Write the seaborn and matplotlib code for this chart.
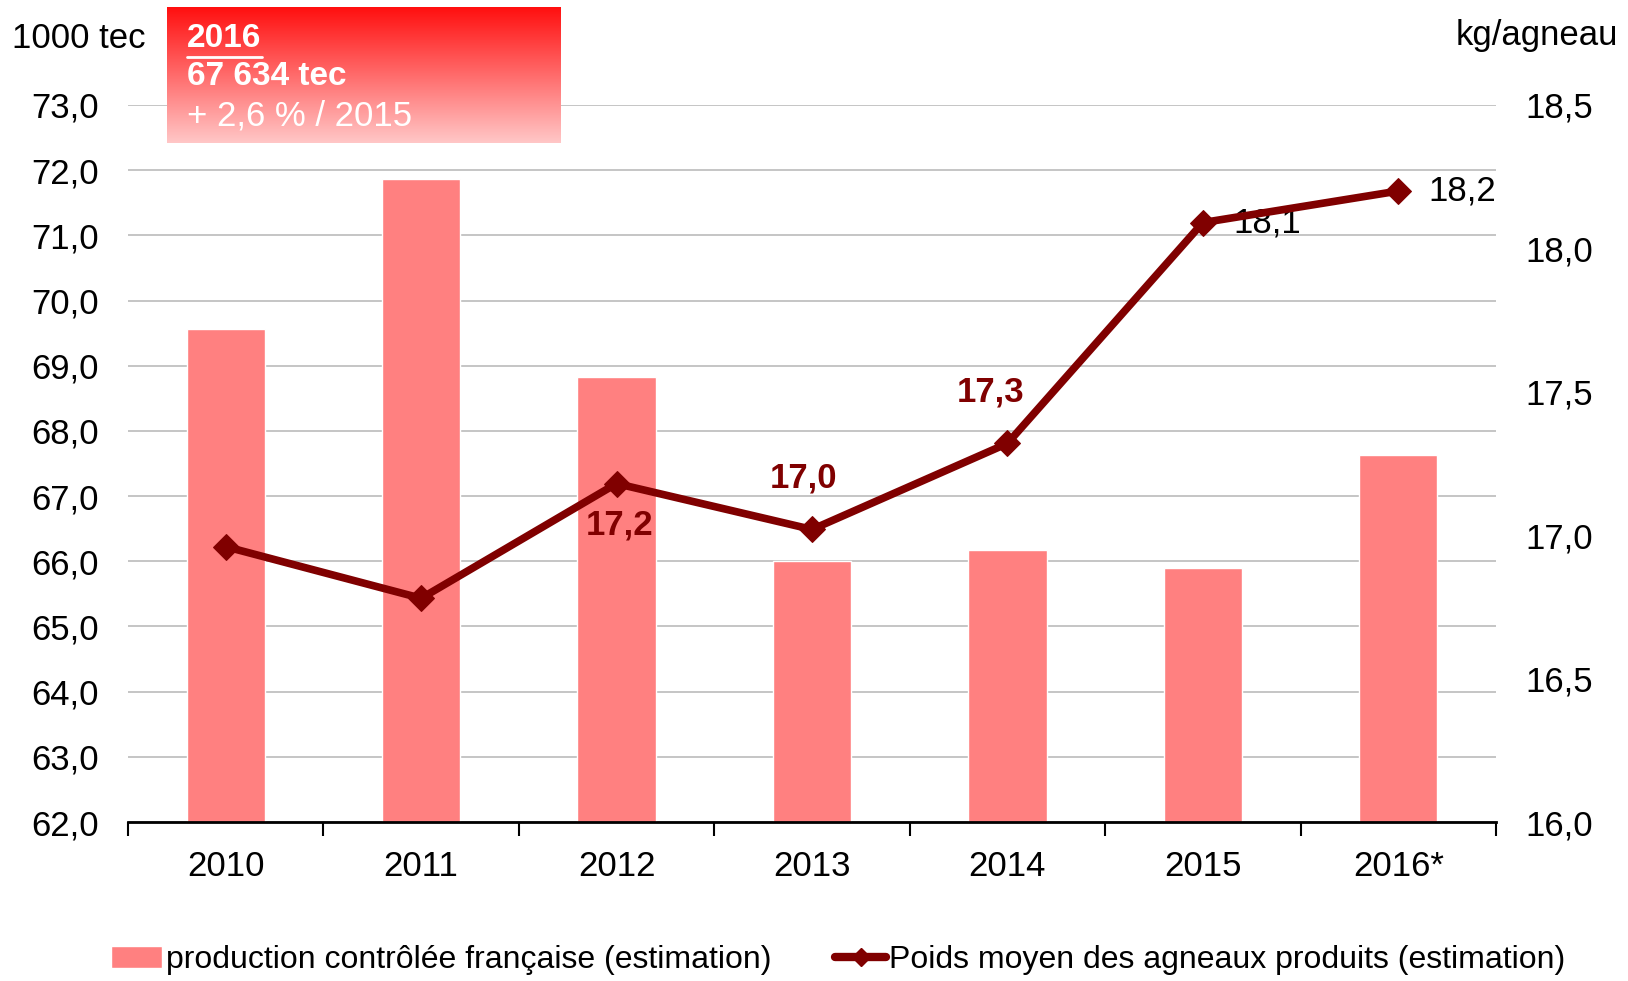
import matplotlib
matplotlib.use('Agg')
import matplotlib.pyplot as plt
import numpy as np
import pandas as pd
import seaborn as sns
from matplotlib.lines import Line2D
from matplotlib.patches import Patch
from matplotlib.ticker import FuncFormatter, MultipleLocator

# Data
years = ['2010', '2011', '2012', '2013', '2014', '2015', '2016*']
production = [69.56, 71.86, 68.83, 66.0, 66.17, 65.89, 67.634]   # 1000 tec
weights = [16.96, 16.78, 17.18, 17.02, 17.32, 18.09, 18.20]      # kg/agneau
weight_labels = ['', '', '17,2', '17,0', '17,3', '18,1', '18,2']

bar_color = '#FF8080'
line_color = '#800000'
fs = 25

sns.set_style('white')
plt.rcParams['font.family'] = ['Liberation Sans', 'DejaVu Sans']
plt.rcParams['text.color'] = 'black'
plt.rcParams['xtick.color'] = 'black'
plt.rcParams['ytick.color'] = 'black'

fig = plt.figure(figsize=(16.28, 9.81), dpi=100)
ax1 = fig.add_axes([128 / 1628, 1 - 822 / 981, (1496 - 128) / 1628, (822 - 105) / 981])

df = pd.DataFrame({'annee': years, 'production': production})
sns.barplot(data=df, x='annee', y='production', color=bar_color, width=0.4,
            saturation=1, ax=ax1, zorder=2)
ax1.set_ylim(62, 73)
ax1.set_xlim(-0.5, 6.5)
ax1.yaxis.set_major_locator(MultipleLocator(1))
ax1.yaxis.set_major_formatter(FuncFormatter(lambda v, p: f'{v:.1f}'.replace('.', ',')))
ax1.grid(axis='y', color='#C0C0C0', linewidth=1.3, zorder=0)
ax1.set_axisbelow(True)
for s in ['left', 'right', 'top']:
    ax1.spines[s].set_visible(False)
ax1.spines['bottom'].set_color('black')
ax1.spines['bottom'].set_linewidth(2)
ax1.set_xlabel('')
ax1.set_ylabel('')
# ticks at category boundaries
ax1.set_xticks(np.arange(7))
ax1.set_xticks(np.arange(-0.5, 7, 1), minor=True)
ax1.tick_params(axis='x', which='major', bottom=False, length=0, labelsize=fs, pad=20)
ax1.tick_params(axis='x', which='minor', bottom=True, length=10, width=1.5,
                color='black', direction='out')
ax1.tick_params(axis='y', length=0, labelsize=fs, pad=21)

ax2 = ax1.twinx()
sns.lineplot(x=np.arange(7), y=weights, ax=ax2, color=line_color, linewidth=5.5,
             marker='D', markersize=13, markeredgecolor=line_color, zorder=5)
ax2.set_ylim(16, 18.5)
ax2.set_xlim(-0.5, 6.5)
ax2.yaxis.set_major_locator(MultipleLocator(0.5))
ax2.yaxis.set_major_formatter(FuncFormatter(lambda v, p: f'{v:.1f}'.replace('.', ',')))
ax2.tick_params(axis='y', length=0, labelsize=fs, pad=21)
for s in ['left', 'right', 'top', 'bottom']:
    ax2.spines[s].set_visible(False)

# data labels
for i, (w, lab) in enumerate(zip(weights, weight_labels)):
    if not lab:
        continue
    if i == 2:
        ax2.annotate(lab, (i, w), xytext=(2, -30), textcoords='offset points',
                     ha='center', va='center', fontsize=fs, fontweight='bold', color=line_color)
    elif i in (3, 4):
        ax2.annotate(lab, (i, w), xytext=(-6 if i == 3 else -12, 37), textcoords='offset points',
                     ha='center', va='center', fontsize=fs, fontweight='bold', color=line_color)
    else:
        ax2.annotate(lab, (i, w), xytext=(22, 0), textcoords='offset points',
                     ha='left', va='center', fontsize=fs, color='black')

fig.text(12 / 1628, 1 - 38 / 981, '1000 tec', fontsize=fs, va='center', ha='left')
fig.text(1618 / 1628, 1 - 36 / 981, 'kg/agneau', fontsize=fs, va='center', ha='right')

# gradient box in the top-left corner
bx = fig.add_axes([167 / 1628, 1 - 143 / 981, (561 - 167) / 1628, (143 - 7) / 981], zorder=10)
top = np.array([1.0, 0.06, 0.06])
bot = np.array([1.0, 0.78, 0.78])
t = np.linspace(0, 1, 200)[:, None]
grad = (top * (1 - t) + bot * t)[:, None, :]
bx.imshow(grad, aspect='auto', extent=[0, 1, 0, 1])
bx.set_xlim(0, 1)
bx.set_ylim(0, 1)
bx.axis('off')
bx.text(0.05, 0.77, '2016', color='white', fontsize=24, fontweight='bold', va='center')
bx.plot([0.05, 0.24], [0.63, 0.63], color='white', linewidth=2)
bx.text(0.05, 0.49, '67 634 tec', color='white', fontsize=24, fontweight='bold', va='center')
bx.text(0.05, 0.2, '+ 2,6 % / 2015', color='white', fontsize=fs, va='center')

handles = [Patch(facecolor=bar_color, label='production contrôlée française (estimation)'),
           Line2D([0], [0], color=line_color, linewidth=6, marker='D', markersize=9,
                  label='Poids moyen des agneaux produits (estimation)')]
fig.legend(handles=handles, loc='center', bbox_to_anchor=(0.515, 1 - 960 / 981), ncol=2,
           frameon=False, fontsize=23, handlelength=1.6, handletextpad=0.1,
           columnspacing=2.0)

fig.savefig('out.png', dpi=100)
